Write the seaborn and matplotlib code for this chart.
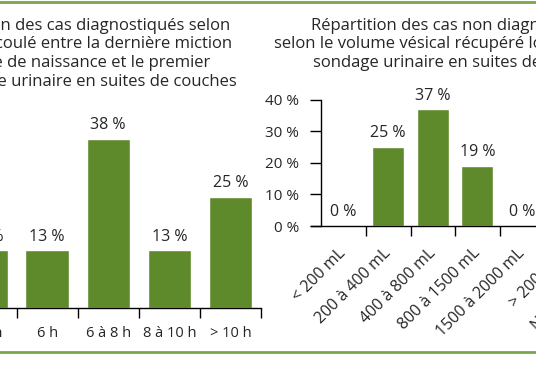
import matplotlib
matplotlib.use("Agg")
import matplotlib.pyplot as plt
import seaborn as sns
import pandas as pd
from matplotlib.lines import Line2D

# left chart: time since last micturition (first category is cut off in the reference)
time_cats = ['< 5 h', '6 h', '6 à 8 h', '8 à 10 h', '> 10 h']
time_pct = [13, 13, 38, 13, 25]

# right chart: bladder volume (last two categories lie outside the crop)
vol_cats = ['< 200 mL', '200 à 400 mL', '400 à 800 mL', '800 à 1500 mL',
            '1500 à 2000 mL', '> 2000 mL', 'Non renseigné']
vol_pct = [0, 25, 37, 19, 0, 0, 19]
vol_ticks = [0, 10, 20, 30, 40]

left_title = ['Répartition des cas diagnostiqués selon',
              'le temps écoulé entre la dernière miction',
              'en salle de naissance et le premier',
              'sondage urinaire en suites de couches']
right_title = ['Répartition des cas non diagnostiqués',
               'selon le volume vésical récupéré lors du',
               'sondage urinaire en suites de couches']

sns.set_style('white')
plt.rcParams['font.family'] = ['Open Sans', 'DejaVu Sans']
green = '#5e8a2c'
rule = '#7aa64a'
W, H = 536, 386

fig = plt.figure(figsize=(W / 100, H / 100), dpi=100)


def px(x0, y_base, width, height):
    return [x0 / W, (H - y_base) / H, width / W, height / H]


# left axes: 5 categories of 61.1 px, baseline at y=308
ax1 = fig.add_axes(px(261 - 5 * 61.1, 308.3, 5 * 61.1, 178.2))
df1 = pd.DataFrame({'cat': time_cats, 'pct': time_pct})
sns.barplot(data=df1, x='cat', y='pct', color=green, saturation=1, width=0.71, ax=ax1)
ax1.set_ylim(0, 40)
ax1.set_xlim(-0.5, len(time_cats) - 0.5)

# right axes: 7 categories of 44.6 px, baseline at y=226
ax2 = fig.add_axes(px(321.3, 226, 7 * 44.6, 126.4))
df2 = pd.DataFrame({'cat': vol_cats, 'pct': vol_pct})
sns.barplot(data=df2, x='cat', y='pct', color=green, saturation=1, width=0.72, ax=ax2)
ax2.set_ylim(0, 40)
ax2.set_xlim(-0.5, len(vol_cats) - 0.5)
ax2.set_yticks(vol_ticks)
ax2.set_yticklabels([f'{v} %' for v in vol_ticks], fontsize=11)
ax2.tick_params(axis='y', length=8, width=1, color='black', pad=8, left=True)

for ax, n, vals in [(ax1, len(time_cats), time_pct), (ax2, len(vol_cats), vol_pct)]:
    ax.set_xlabel('')
    ax.set_ylabel('')
    for s in ['top', 'right']:
        ax.spines[s].set_visible(False)
    ax.spines['bottom'].set_color('black')
    ax.spines['bottom'].set_linewidth(1)
    ax.set_xticks([i + 0.5 for i in range(n - 1 + (ax is ax1))], minor=True)
    ax.tick_params(axis='x', which='minor', length=7, width=1, color='black', bottom=True)
    ax.bar_label(ax.containers[0], labels=[f'{v} %' for v in vals],
                 padding=4, fontsize=11.5)

ax1.spines['left'].set_visible(False)
ax1.set_yticks([])
ax1.tick_params(axis='x', which='major', length=0, pad=13, labelsize=10.5)
ax2.spines['left'].set_color('black')
ax2.spines['left'].set_linewidth(1)
ax2.spines['bottom'].set_bounds(-0.5 - 10 / 44.6, len(vol_cats) - 0.5)
ax2.tick_params(axis='x', which='major', length=0, pad=18, labelsize=11.5)
plt.setp(ax2.get_xticklabels(), rotation=45, ha='right', va='center',
         rotation_mode='anchor')

# titles: lines centred in the source, cropped by the figure edge
left_ends = [230, 232, 210, 237]
for i, line in enumerate(left_title):
    fig.text(left_ends[i] / W, 1 - (29.5 + 18.7 * i) / H, line, ha='right',
             va='baseline', fontsize=12)
right_starts = [311, 274, 313]
for i, line in enumerate(right_title):
    fig.text(right_starts[i] / W, 1 - (29.5 + 18.7 * i) / H, line, ha='left',
             va='baseline', fontsize=12)

# green rules at top and bottom
fig.add_artist(Line2D([0, 1], [1 - 2 / H, 1 - 2 / H], color=rule, lw=2,
                      transform=fig.transFigure))
fig.add_artist(Line2D([0, 1], [1 - 351.5 / H, 1 - 351.5 / H], color=rule, lw=2,
                      transform=fig.transFigure))

fig.savefig('out.png', dpi=100)
